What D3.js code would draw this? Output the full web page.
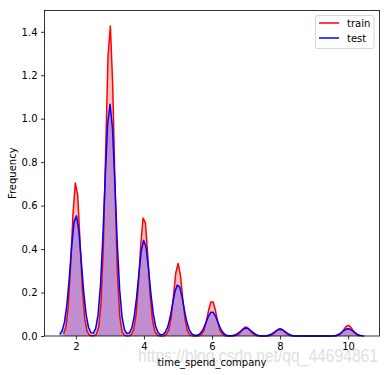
<!DOCTYPE html>
<html>
<head>
<meta charset="utf-8">
<script src="https://cdn.jsdelivr.net/npm/d3@7"></script>
<style>
  html, body { margin: 0; padding: 0; background: #fff; }
  svg { display: block; font-family: "DejaVu Sans", sans-serif; }
</style>
</head>
<body>
<svg id="chart" width="389" height="375"></svg>
<script>
// ---- data ----
const categories = [2, 3, 4, 5, 6, 7, 8, 10];           // time_spend_company values
const trainShare = [0.2200, 0.4420, 0.1730, 0.1015, 0.0510, 0.0126, 0.0108, 0.0153];
const testShare  = [0.2250, 0.4265, 0.1772, 0.0961, 0.0455, 0.0148, 0.0124, 0.0136];
const trainBandwidth = 0.120;
const testBandwidth  = 0.1585;
const xTicks = [2, 4, 6, 8, 10];
const yTicks = [0.0, 0.2, 0.4, 0.6, 0.8, 1.0, 1.2, 1.4];
const seriesNames = ["train", "test"];
const seriesColors = ["#ff0000", "#0000ff"];

// ---- binned gaussian KDE on a 128-point grid (cut = 3) ----
function kde(values, weights, h) {
  const n = 128;
  const lo = d3.min(values) - 3 * h, hi = d3.max(values) + 3 * h;
  const step = (hi - lo) / (n - 1);
  const grid = d3.range(n).map(i => lo + step * i);
  const bins = new Array(n).fill(0);
  values.forEach((v, j) => {
    const p = (v - lo) / step, i0 = Math.floor(p), f = p - i0;
    bins[i0] += weights[j] * (1 - f);
    if (i0 + 1 < n) bins[i0 + 1] += weights[j] * f;
  });
  return grid.map(gx => {
    let y = 0;
    bins.forEach((w, k) => {
      if (!w) return;
      const z = (gx - grid[k]) / h;
      y += w * Math.exp(-0.5 * z * z) / (h * Math.sqrt(2 * Math.PI));
    });
    return [gx, y];
  });
}
const trainCurve = kde(categories, trainShare, trainBandwidth);
const testCurve  = kde(categories, testShare, testBandwidth);

// ---- layout ----
const svg = d3.select("#chart");
const L = 44.5, R = 379.5, T = 10.5, B = 336;

const allX = trainCurve.concat(testCurve).map(d => d[0]);
const xmin = d3.min(allX), xmax = d3.max(allX);
const xpad = (xmax - xmin) * 0.05;
const ymax = d3.max(trainCurve.concat(testCurve), d => d[1]);

const x = d3.scaleLinear().domain([xmin - xpad, xmax + xpad]).range([L, R]);
const y = d3.scaleLinear().domain([0, ymax * 1.05]).range([B, T]);

const area = d3.area().x(d => x(d[0])).y0(y(0)).y1(d => y(d[1]));
const line = d3.line().x(d => x(d[0])).y(d => y(d[1]));

// watermark (behind)
svg.append("text")
  .attr("x", 138).attr("y", 362)
  .attr("font-family", "Liberation Sans, Arial, sans-serif")
  .attr("font-size", 18)
  .attr("fill", "#e0e0e0")
  .attr("textLength", 240)
  .attr("lengthAdjust", "spacingAndGlyphs")
  .text("https://blog.csdn.net/qq_44694861");

const curves = [trainCurve, testCurve];
curves.forEach((c, i) => {
  svg.append("path").datum(c).attr("d", area)
    .attr("fill", seriesColors[i]).attr("fill-opacity", 0.25).attr("stroke", "none");
});
curves.forEach((c, i) => {
  svg.append("path").datum(c).attr("d", line)
    .attr("fill", "none").attr("stroke", seriesColors[i]).attr("stroke-width", 1.5)
    .attr("stroke-linejoin", "round");
});

// axes
const xAxis = d3.axisBottom(x).tickValues(xTicks).tickSize(3.5).tickPadding(3.5)
  .tickFormat(d3.format("d"));
const yAxis = d3.axisLeft(y).tickValues(yTicks).tickSize(3.5).tickPadding(3.5)
  .tickFormat(d3.format(".1f"));

const gx = svg.append("g").attr("transform", `translate(0,${B})`).call(xAxis);
const gy = svg.append("g").attr("transform", `translate(${L},0)`).call(yAxis);
[gx, gy].forEach(g => {
  g.select(".domain").remove();
  g.selectAll(".tick line").attr("stroke", "#000").attr("stroke-width", 0.8);
  g.selectAll(".tick text").attr("font-size", 10).attr("fill", "#000")
    .attr("font-family", "DejaVu Sans, sans-serif");
});

// frame
svg.append("rect").attr("x", L).attr("y", T).attr("width", R - L).attr("height", B - T)
  .attr("fill", "none").attr("stroke", "#000").attr("stroke-width", 0.8);

// axis labels
svg.append("text").attr("x", (L + R) / 2).attr("y", 366).attr("text-anchor", "middle")
  .attr("font-size", 10).attr("fill", "#000").text("time_spend_company");
svg.append("text").attr("transform", `translate(16,${(T + B) / 2}) rotate(-90)`)
  .attr("text-anchor", "middle").attr("font-size", 10).attr("fill", "#000").text("Frequency");

// legend
const lg = svg.append("g");
lg.append("rect").attr("x", 315.5).attr("y", 15.5).attr("width", 58.5).attr("height", 33)
  .attr("rx", 2).attr("fill", "#fff").attr("fill-opacity", 0.8)
  .attr("stroke", "#ccc").attr("stroke-width", 0.8);
seriesNames.forEach((name, i) => {
  const yy = 23 + i * 15;
  lg.append("line").attr("x1", 319).attr("x2", 339).attr("y1", yy).attr("y2", yy)
    .attr("stroke", seriesColors[i]).attr("stroke-width", 1.5);
  lg.append("text").attr("x", 347).attr("y", yy + 3.5).attr("font-size", 10)
    .attr("fill", "#000").text(name);
});
</script>
</body>
</html>
